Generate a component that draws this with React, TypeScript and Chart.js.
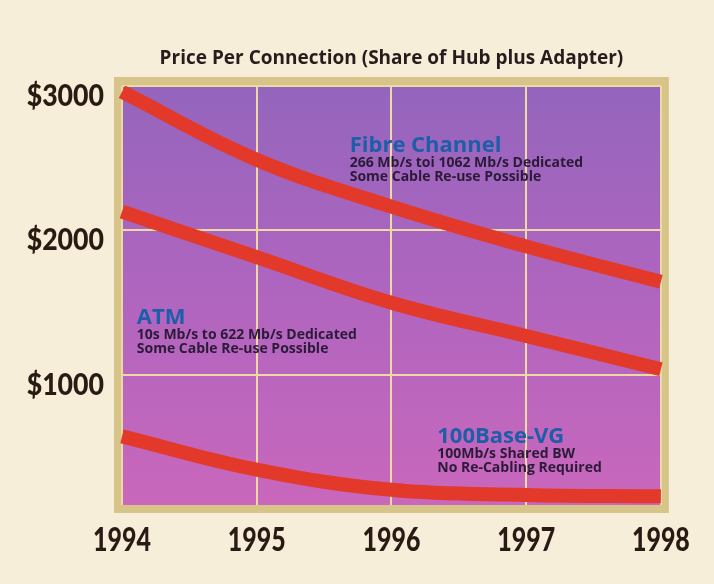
import React, { useEffect, useRef } from "react";
import { Chart, registerables } from "chart.js";

Chart.register(...registerables);

const years = ["1994", "1995", "1996", "1997", "1998"];
const fibreChannel = [2960, 2490, 2165, 1890, 1645];
const atm = [2130, 1815, 1500, 1270, 1040];
const vg100 = [575, 345, 205, 170, 160];
const yTicks = [1000, 2000, 3000];

const titleText = "Price Per Connection (Share of Hub plus Adapter)";
const notes = [
  { head: "Fibre Channel", lines: ["266 Mb/s toi 1062 Mb/s Dedicated", "Some Cable Re-use Possible"], x: 1.69, y: 2585 },
  { head: "ATM", lines: ["10s Mb/s to 622 Mb/s Dedicated", "Some Cable Re-use Possible"], x: 0.11, y: 1395 },
  { head: "100Base-VG", lines: ["100Mb/s Shared BW", "No Re-Cabling Required"], x: 2.34, y: 570 },
];

const TICKFONT = "Lato, 'Open Sans', sans-serif";
const SANS = "'Open Sans', Lato, sans-serif";

const makeNarrow = (k: number) =>
  function (this: any, chartArea: any) {
    const ctx = this.ctx;
    const items = this.getLabelItems(chartArea);
    for (const item of items) {
      const o = item.options;
      ctx.save();
      ctx.translate(o.translation[0], o.translation[1]);
      ctx.scale(k, 1);
      ctx.font = item.font.string;
      ctx.fillStyle = o.color;
      ctx.textAlign = o.textAlign;
      ctx.textBaseline = o.textBaseline;
      ctx.fillText(item.label, 0, item.textOffset);
      ctx.restore();
    }
  };

const bgPlugin = {
  id: "bgPlugin",
  beforeDraw(chart: any) {
    const { ctx, chartArea: a, width, height } = chart;
    ctx.save();
    ctx.fillStyle = "#f6eed8";
    ctx.fillRect(0, 0, width, height);
    ctx.fillStyle = "#d6c489";
    ctx.fillRect(a.left - 8, a.top - 9, a.right - a.left + 16, a.bottom - a.top + 17);
    const g = ctx.createLinearGradient(0, a.top, 0, a.bottom);
    g.addColorStop(0, "#9465bd");
    g.addColorStop(0.5, "#b065bf");
    g.addColorStop(1, "#c967bc");
    ctx.fillStyle = g;
    ctx.fillRect(a.left, a.top, a.right - a.left, a.bottom - a.top);
    ctx.fillStyle = "#2a1c1c";
    ctx.font = `bold 19px ${SANS}`;
    ctx.textAlign = "center";
    ctx.textBaseline = "middle";
    ctx.fillText(titleText, (a.left + a.right) / 2, 59);
    ctx.restore();
  },
  afterDatasetsDraw(chart: any) {
    const { ctx } = chart;
    const xs = chart.scales.x;
    const ys = chart.scales.y;
    ctx.save();
    ctx.textAlign = "left";
    ctx.textBaseline = "middle";
    for (const n of notes) {
      const px = xs.getPixelForValue(n.x);
      const py = ys.getPixelForValue(n.y);
      ctx.fillStyle = "#1d5ea8";
      ctx.font = `bold 22px ${SANS}`;
      ctx.fillText(n.head, px, py);
      ctx.fillStyle = "#2b1a38";
      ctx.font = `bold 14px ${SANS}`;
      n.lines.forEach((l, i) => ctx.fillText(l, px, py + 17 + i * 14));
    }
    ctx.restore();
  },
};

const lineStyle = {
  borderColor: "#e2392b",
  borderWidth: 14,
  pointRadius: 0,
  fill: false,
  tension: 0.4,
  borderCapStyle: "butt" as const,
};

export default function App() {
  const ref = useRef<HTMLCanvasElement>(null);
  useEffect(() => {
    const chart = new Chart(ref.current!, {
      type: "line",
      data: {
        labels: years,
        datasets: [
          { label: "Fibre Channel", data: fibreChannel, ...lineStyle },
          { label: "ATM", data: atm, ...lineStyle },
          { label: "100Base-VG", data: vg100, ...lineStyle },
        ],
      },
      options: {
        animation: false,
        responsive: false,
        layout: { padding: { top: 86, right: 52, left: 0, bottom: 0 } },
        plugins: { legend: { display: false }, tooltip: { enabled: false }, title: { display: false } },
        scales: {
          x: {
            grid: { color: "#ecd9a4", lineWidth: 2, drawTicks: false },
            border: { display: false },
            ticks: { color: "#2a1a14", font: { family: TICKFONT, size: 32, weight: "900" }, padding: 16, maxRotation: 0 },
            afterFit(s: any) {
              s.height = 79;
              s.drawLabels = makeNarrow(0.78);
            },
          },
          y: {
            min: 100,
            max: 3000,
            afterBuildTicks(s: any) {
              s.ticks = yTicks.map((v) => ({ value: v }));
            },
            grid: { color: "#ecd9a4", lineWidth: 2, drawTicks: false },
            border: { display: false },
            ticks: {
              color: "#2a1a14",
              font: { family: TICKFONT, size: 31, weight: "900" },
              padding: 18,
              labelOffset: 10,
              callback: (v: any) => "$" + v,
            },
            afterFit(s: any) {
              s.width = 122;
              s.drawLabels = makeNarrow(0.86);
            },
          },
        },
      },
      plugins: [bgPlugin],
    });
    return () => chart.destroy();
  }, []);
  return (
    <div style={{ position: "fixed", left: 0, top: 0, width: 714, height: 584, background: "#f6eed8" }}>
      <canvas ref={ref} width={714} height={584} />
    </div>
  );
}
